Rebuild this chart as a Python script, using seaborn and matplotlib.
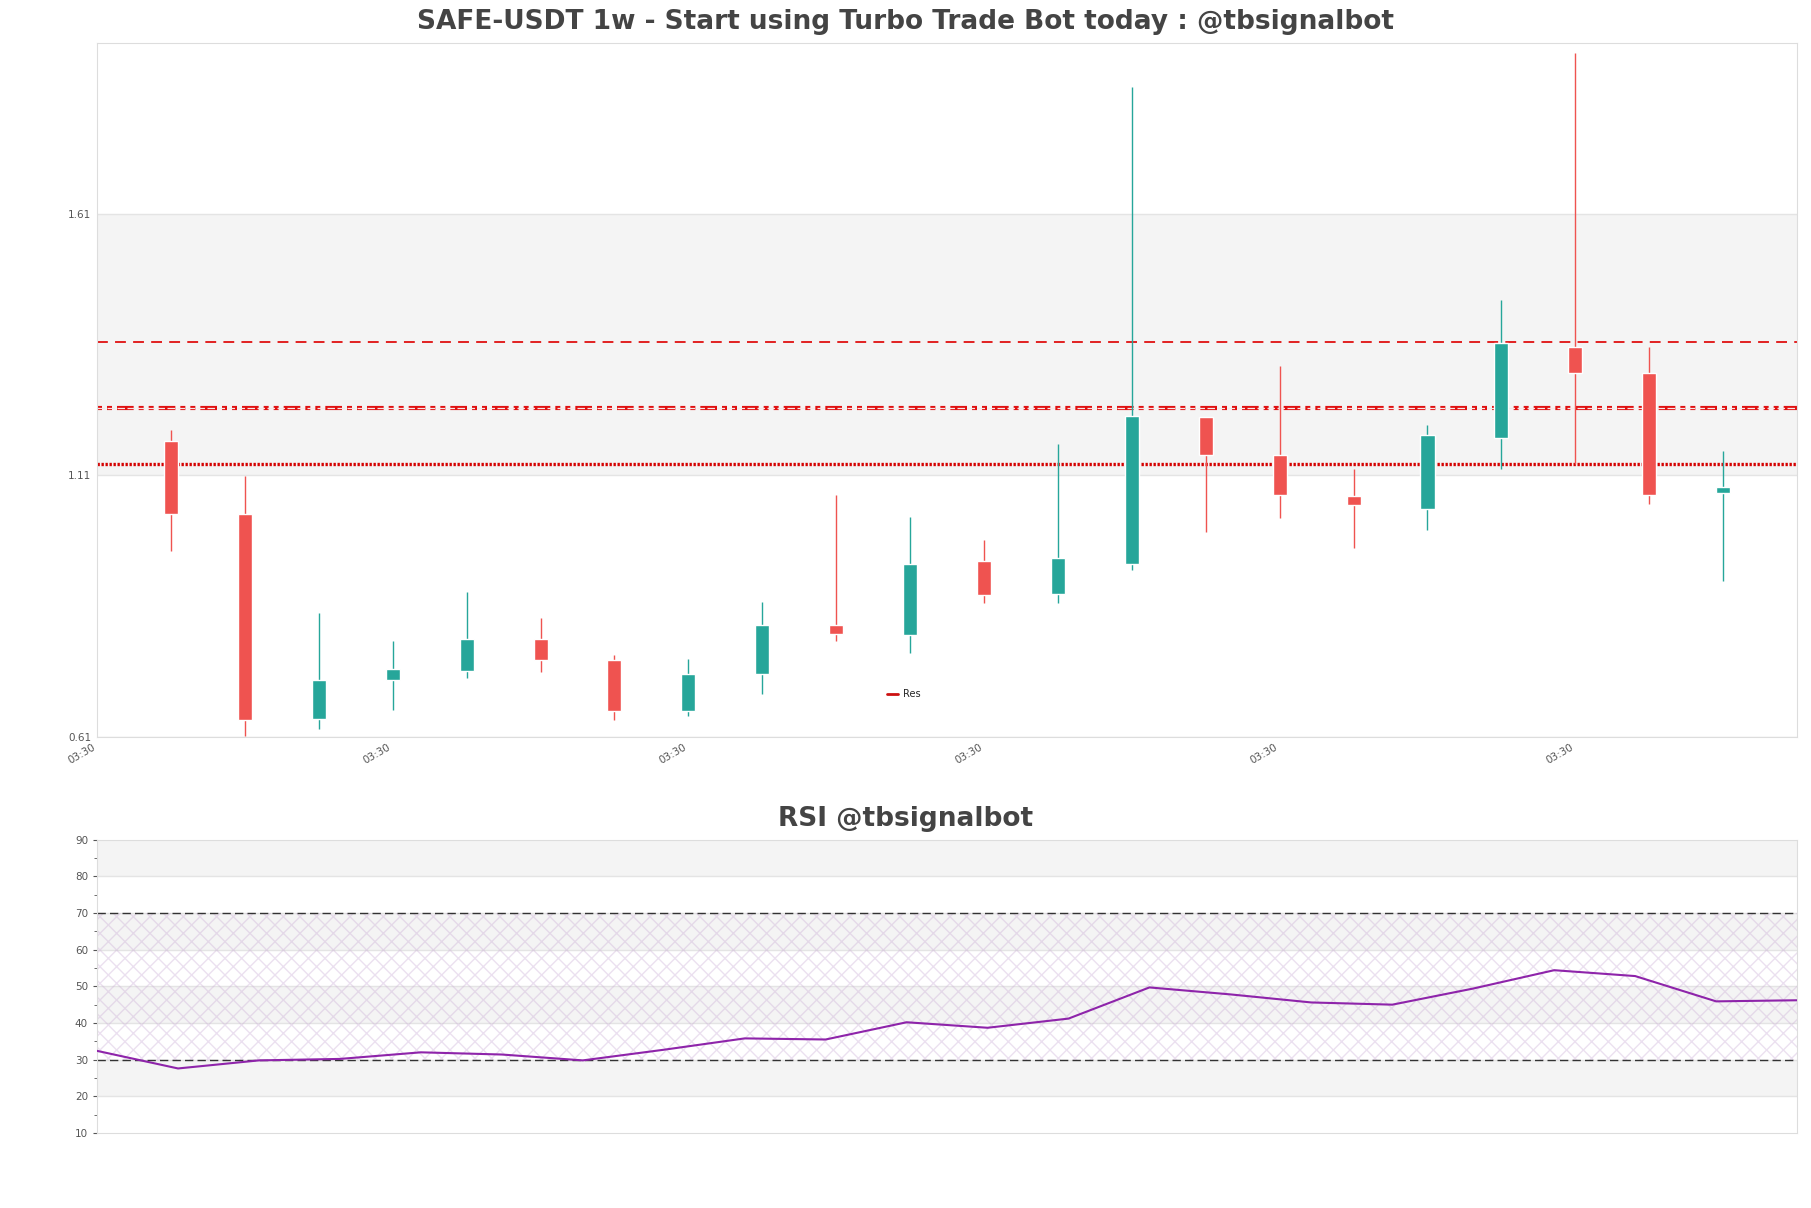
import numpy as np
import pandas as pd
import seaborn as sns
import matplotlib
matplotlib.use('Agg')
import matplotlib.pyplot as plt
from matplotlib.ticker import MultipleLocator

# weekly candles
opens = [1.176, 1.036, 0.645, 0.718, 0.736, 0.798, 0.758, 0.659, 0.731, 0.824, 0.805,
         0.946, 0.884, 0.941, 1.222, 1.149, 1.070, 1.045, 1.182, 1.355, 1.306, 1.076]
highs = [1.196, 1.109, 0.846, 0.793, 0.888, 0.838, 0.767, 0.760, 0.868, 1.072, 1.030,
         0.986, 1.169, 1.852, 1.222, 1.319, 1.123, 1.207, 1.445, 1.917, 1.355, 1.156]
lows = [0.966, 0.611, 0.625, 0.661, 0.723, 0.734, 0.643, 0.650, 0.692, 0.793, 0.771,
        0.866, 0.866, 0.930, 1.001, 1.028, 0.972, 1.005, 1.123, 1.131, 1.056, 0.908]
closes = [1.036, 0.643, 0.718, 0.740, 0.798, 0.758, 0.659, 0.731, 0.824, 0.807, 0.941,
          0.882, 0.952, 1.224, 1.149, 1.072, 1.054, 1.187, 1.363, 1.306, 1.072, 1.088]
rsi = [32.4, 27.6, 29.8, 30.2, 32.0, 31.4, 29.8, 32.7, 35.8, 35.5, 40.2,
       38.7, 41.2, 49.7, 47.8, 45.6, 45.0, 49.4, 54.4, 52.8, 45.9, 46.2]
res_dash = 1.364
res_mid = 1.238
res_dot = 1.131
tick_pos = [-1, 3, 7, 11, 15, 19]
tick_txt = '03:30'

sns.set_style('white')
plt.rcParams['font.family'] = ['DejaVu Sans']

up_col = '#26a69a'
dn_col = '#ef5350'
band = '#f4f4f4'
spine = '#dddddd'

fig = plt.figure(figsize=(18.11, 12.08), dpi=100)
ax = fig.add_axes([0.0536, 0.3899, 0.9387, 0.5745])
ax2 = fig.add_axes([0.0536, 0.0621, 0.9387, 0.2428])

df = pd.DataFrame({'open': opens, 'high': highs, 'low': lows, 'close': closes})
df['x'] = np.arange(len(df))
cols = np.where(df.close >= df.open, up_col, dn_col)

# ---- price panel ----
ymin, ymax = df.low.min(), df.high.max() * 1.01
yt = np.arange(0.61, ymax, 0.5)
for i, t in enumerate(yt):
    if i % 2 == 1:
        ax.axhspan(t, t + 0.5, color=band, zorder=0, lw=0)
for t in yt:
    ax.axhline(t, color='#e4e4e4', lw=1, zorder=0.5)

ax.vlines(df.x, df.low, df.high, colors=cols, lw=1, zorder=3)
ax.bar(df.x, (df.close - df.open).abs(), bottom=df[['open', 'close']].min(axis=1),
       width=0.19, color=cols, zorder=4)

ax.axhline(res_dash, color='#e01010', lw=1.3, ls=(0, (6, 4)), zorder=2)
ax.axhline(res_mid, color='#e01010', lw=3, ls=(0, (1.2, 1.2, 1.2, 1.2, 4, 1.2)), zorder=2)
ax.axhline(res_mid, color='#f6e6e6', lw=0.9, ls=(0, (6, 2)), zorder=2.1)
ax.axhline(res_dot, color='#d40000', lw=2.4, ls=(0, (0.7, 0.5)), zorder=2)
ax.plot([], [], color='#cc1111', lw=2, label='Res')
ax.legend(loc='center left', bbox_to_anchor=(0.4595, 0.062), frameon=False,
          fontsize=7, handlelength=1.1, handletextpad=0.6)

ax.set_xlim(-1, len(df))
ax.set_ylim(ymin, ymax)
ax.set_yticks(yt)
ax.set_yticklabels(['%.2f' % t for t in yt])
ax.set_xticks(tick_pos)
ax.set_xticklabels([tick_txt] * len(tick_pos), rotation=30, ha='right')
ax.tick_params(labelsize=7.5, colors='#555', length=2, pad=2)
for s in ax.spines.values():
    s.set_color(spine)

# ---- RSI panel ----
for i, t in enumerate(range(10, 90, 10)):
    if i % 2 == 1:
        ax2.axhspan(t, t + 10, color=band, zorder=0, lw=0)
for t in range(20, 90, 10):
    ax2.axhline(t, color='#e4e4e4', lw=1, zorder=0.5)
ax2.axhspan(30, 70, facecolor='none', edgecolor='#c8a8d4', hatch='xx', lw=0, alpha=0.35, zorder=1)
ax2.axhline(30, color='#333333', lw=1, ls=(0, (6, 3)), zorder=2)
ax2.axhline(70, color='#333333', lw=1, ls=(0, (6, 3)), zorder=2)
sns.lineplot(x=np.arange(len(rsi)), y=rsi, ax=ax2, color='#8e24aa', lw=1.5, zorder=3)

ax2.set_xlim(0, len(rsi) - 1)
ax2.set_ylim(10, 90)
ax2.yaxis.set_major_locator(MultipleLocator(10))
ax2.yaxis.set_minor_locator(MultipleLocator(5))
ax2.set_xticks([])
ax2.tick_params(axis='y', which='both', left=True, labelsize=7.5, colors='#555', length=3)
ax2.tick_params(axis='y', which='minor', length=2)
for s in ax2.spines.values():
    s.set_color(spine)

fig.text(0.5, 1 - 22 / 1208, 'SAFE-USDT 1w - Start using Turbo Trade Bot today : @tbsignalbot',
         ha='center', va='center', fontsize=19, fontweight='bold', color='#444444')
fig.text(0.5, 1 - 819 / 1208, 'RSI @tbsignalbot',
         ha='center', va='center', fontsize=19, fontweight='bold', color='#444444')

fig.savefig('out.png', dpi=100)
